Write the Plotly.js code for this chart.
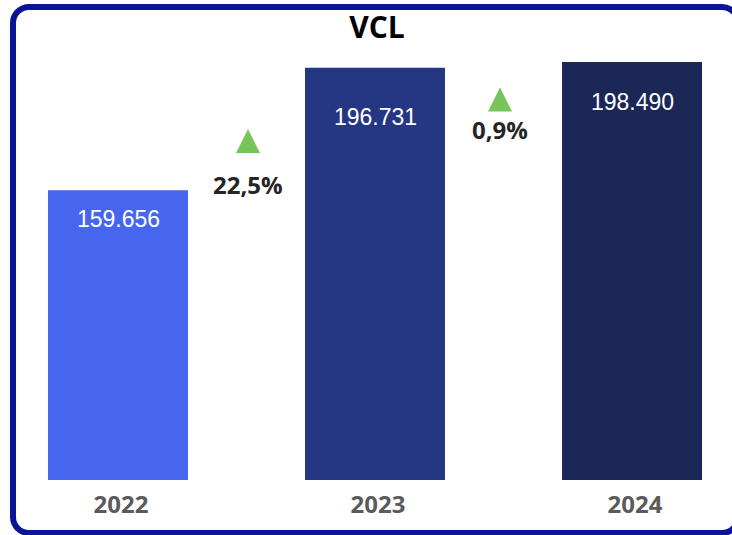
<!DOCTYPE html>
<html>
<head>
<meta charset="utf-8">
<script src="https://cdn.plot.ly/plotly-3.0.1.min.js"></script>
<style>
  html, body { margin: 0; padding: 0; background: #ffffff; }
  #wrap { position: relative; width: 732px; height: 535px; overflow: hidden; }
  #chart { position: absolute; left: 0; top: 0; width: 732px; height: 535px; }
  #frame { position: absolute; left: 10px; top: 4px; width: 731px; height: 532px;
           box-sizing: border-box; border: 6px solid #0a1496; border-radius: 19px;
           pointer-events: none; }
</style>
</head>
<body>
<div id="wrap">
  <div id="chart"></div>
  <div id="frame"></div>
</div>
<script>
// ---- data ----
var years = ['2022', '2023', '2024'];
var values = [159656, 196731, 198490];
var changes = ['22,5%', '0,9%'];

// ---- styles ----
var barColors = ['#4666f0', '#253782', '#1a2757'];
var valueShift = [-29, -49, -40];
var triX = [0.3257, 0.6857];       // paper x of change markers
var triBaseY = [0.7432, 0.8375];   // paper y of triangle base
var pctY = [0.6727, 0.7955];       // paper y of change label centre

function fmt(v) {
  return String(v).replace(/\B(?=(\d{3})+(?!\d))/g, '.');
}

var trace = {
  type: 'bar',
  x: years,
  y: values,
  marker: { color: barColors },
  hoverinfo: 'none',
  showlegend: false
};

var annotations = [];
years.forEach(function (yr, i) {
  annotations.push({
    x: i, y: values[i], xref: 'x', yref: 'y',
    text: fmt(values[i]), showarrow: false,
    yanchor: 'middle', xanchor: 'center', yshift: valueShift[i],
    font: { family: 'Liberation Sans, Arial, sans-serif', size: 23, color: '#ffffff' }
  });
});
changes.forEach(function (c, i) {
  annotations.push({
    x: triX[i], y: pctY[i], xref: 'paper', yref: 'paper',
    text: c, showarrow: false, yanchor: 'middle', xanchor: 'center',
    font: { family: 'Open Sans, sans-serif', size: 24, color: '#252525', weight: 700 }
  });
});

var shapes = changes.map(function (c, i) {
  return {
    type: 'path', xref: 'paper', yref: 'paper',
    xsizemode: 'pixel', ysizemode: 'pixel',
    xanchor: triX[i], yanchor: triBaseY[i],
    path: 'M-12,0L12,0L0,24Z',
    fillcolor: '#77c558', line: { width: 0 }
  };
});

var layout = {
  width: 732, height: 535,
  margin: { l: 20, r: 12, t: 40, b: 55 },
  paper_bgcolor: '#ffffff', plot_bgcolor: '#ffffff',
  title: {
    text: '<b>VCL</b>', xref: 'container', x: 0.515, y: 0.9495, yanchor: 'middle',
    font: { family: 'Open Sans, sans-serif', size: 30, color: '#000000' }
  },
  bargap: 0.4553,
  xaxis: {
    type: 'category', range: [-0.3813, 2.3424], fixedrange: true,
    showline: false, showgrid: false, zeroline: false, ticks: '',
    ticklabelstandoff: 8, ticklabelshift: 3,
    tickfont: { family: 'Open Sans, sans-serif', size: 24, color: '#5b5b5b', weight: 700 }
  },
  yaxis: {
    range: [71873, 205165], visible: false, fixedrange: true,
    showgrid: false, zeroline: false
  },
  annotations: annotations,
  shapes: shapes
};

Plotly.newPlot('chart', [trace], layout, { displayModeBar: false, staticPlot: true });
</script>
</body>
</html>
